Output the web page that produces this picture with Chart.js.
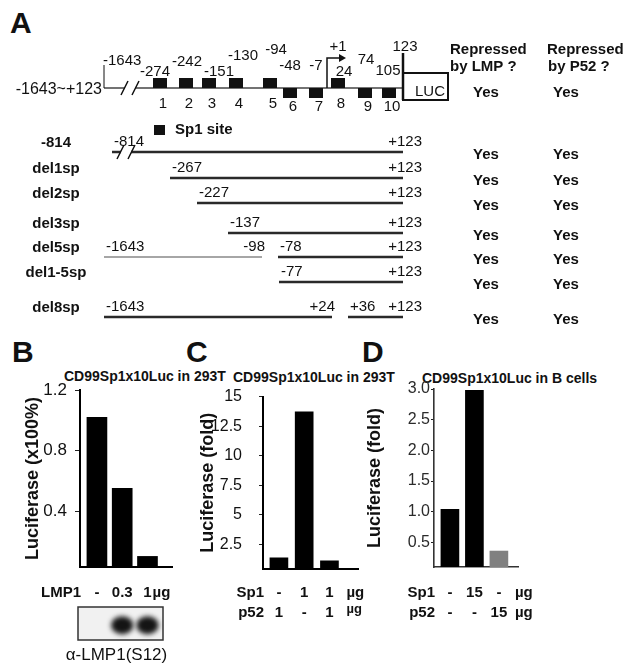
<!DOCTYPE html>
<html>
<head>
<meta charset="utf-8">
<title>CD99 Sp1 reporter constructs</title>
<script src="https://cdn.jsdelivr.net/npm/chart.js@4.4.1/dist/chart.umd.min.js"></script>
<style>
  body { margin: 0; background: #fff; }
  #page { position: relative; width: 644px; height: 671px; overflow: hidden;
          font-family: "Liberation Sans", Arial, sans-serif; color: #111; }
  #page canvas { position: absolute; }
  .letter { position: absolute; font-weight: bold; font-size: 30px; line-height: 30px; }
  .ctitle { position: absolute; font-weight: bold; font-size: 14px; line-height: 16px; white-space: nowrap; }
</style>
</head>
<body>
<div id="page">
  <div class="letter" style="left:10px;top:8px">A</div>
  <div class="letter" style="left:12px;top:337px">B</div>
  <div class="letter" style="left:186px;top:337px">C</div>
  <div class="letter" style="left:362px;top:337px">D</div>
  <div class="ctitle" style="left:64px;top:368px">CD99Sp1x10Luc in 293T</div>
  <div class="ctitle" style="left:233px;top:369px">CD99Sp1x10Luc in 293T</div>
  <div class="ctitle" style="left:422px;top:370px">CD99Sp1x10Luc in B cells</div>
  <canvas id="panelA" width="644" height="340" style="left:0;top:0"></canvas>
  <canvas id="panelB" width="190" height="301" style="left:0;top:370px"></canvas>
  <canvas id="panelC" width="190" height="260" style="left:185px;top:370px"></canvas>
  <canvas id="panelD" width="200" height="260" style="left:355px;top:370px"></canvas>
</div>
<script>
const FONT = '"Liberation Sans", Arial, sans-serif';
const INK = '#111';
Chart.defaults.font.family = FONT;

// ---- panel A: promoter map and deletion constructs ----
const siteNumbers = ['1', '2', '3', '4', '5', '6', '7', '8', '9', '10'];
const sitePositions = [-274, -242, -151, -130, -94, -48, -7, 24, 74, 105];
const siteSides = [1, 1, 1, 1, 1, -1, -1, 1, -1, -1];   // 1 = above the line
const constructNames = ['-814', 'del1sp', 'del2sp', 'del3sp', 'del5sp', 'del1-5sp', 'del8sp'];
const constructSegments = [
  [[-814, 123]],
  [[-267, 123]],
  [[-227, 123]],
  [[-137, 123]],
  [[-1643, -98], [-78, 123]],
  [[-77, 123]],
  [[-1643, 24], [36, 123]]
];
// first entry is the full-length -1643~+123 reporter
const repressedByLMP = ['Yes', 'Yes', 'Yes', 'Yes', 'Yes', 'Yes', 'Yes', 'Yes'];
const repressedByP52 = ['Yes', 'Yes', 'Yes', 'Yes', 'Yes', 'Yes', 'Yes', 'Yes'];

// ---- panel B ----
const lmpDoses = ['-', '0.3', '1'];
const lmpLuciferase = [1.02, 0.55, 0.1];
const lmpBlotSignal = [0, 1, 1];
const yTicksB = [0.4, 0.8, 1.2];
const yTickLabelsB = ['0.4', '0.8', '1.2'];

// ---- panel C ----
const sp1DosesC = ['-', '1', '1'];
const p52DosesC = ['1', '-', '1'];
const luciferaseC = [1.35, 13.7, 1.1];
const yTicksC = [2.5, 5, 7.5, 10, 12.5, 15];
const yTickLabelsC = ['2.5', '5', '7.5', '10', '12.5', '15'];

// ---- panel D ----
const sp1DosesD = ['-', '15', '-'];
const p52DosesD = ['-', '-', '15'];
const luciferaseD = [1.04, 2.98, 0.36];
const yTicksD = [0.5, 1, 1.5, 2, 2.5, 3];
const yTickLabelsD = ['0.5', '1.0', '1.5', '2.0', '2.5', '3.0'];

// ---- map layout (the map is not to scale, so x goes through a piecewise scale) ----
const mapKnots = [[-1643, 104], [-814, 112], [-274, 154], [-267, 170], [-242, 180],
  [-227, 197], [-151, 203], [-137, 228], [-130, 230], [-98, 262], [-94, 264],
  [-78, 278], [-77, 279], [-48, 284], [-7, 310], [1, 327], [24, 332], [36, 348],
  [74, 359], [105, 383], [123, 403]];
const mapY = 88;
const rowY = [152, 178, 203, 233, 257, 282, 317];
const siteLabelY = [72, 62, 72, 56, 50, 66, 66, 72, 60, 71];
const siteLabelDx = [-5, 1, 10, 7, 6, 0, 0, 6, 1, -1];

function warp(v) {
  const k = mapKnots;
  if (v <= k[0][0]) return k[0][1];
  for (let i = 1; i < k.length; i++) {
    if (v <= k[i][0]) {
      const [a, pa] = k[i - 1], [b, pb] = k[i];
      return pa + (v - a) / (b - a) * (pb - pa);
    }
  }
  return k[k.length - 1][1];
}

class SchematicScale extends Chart.LinearScale {
  getPixelForValue(value) { return super.getPixelForValue(warp(value)); }
}
SchematicScale.id = 'schematic';
SchematicScale.defaults = Chart.LinearScale.defaults;
Chart.register(SchematicScale);

const fmtPos = v => (v > 0 ? '+' + v : String(v));

function breakMark(ctx, cx, cy) {
  ctx.save();
  ctx.fillStyle = '#fff';
  ctx.fillRect(cx - 5, cy - 3, 10, 6);
  ctx.strokeStyle = INK;
  ctx.lineWidth = 1.5;
  ctx.beginPath();
  ctx.moveTo(cx - 9, cy + 7); ctx.lineTo(cx - 2, cy - 7);
  ctx.moveTo(cx + 2, cy + 7); ctx.lineTo(cx + 9, cy - 7);
  ctx.stroke();
  ctx.restore();
}

const mapPlugin = {
  id: 'promoterMap',
  afterDatasetsDraw(chart) {
    const {ctx, scales: {x}} = chart;
    const px = v => x.getPixelForValue(v);
    const put = (str, tx, ty, size, bold, align) => {
      ctx.font = (bold ? 'bold ' : '') + size + 'px ' + FONT;
      ctx.textAlign = align || 'center';
      ctx.fillText(str, tx, ty);
    };
    ctx.save();
    ctx.fillStyle = INK;
    ctx.strokeStyle = INK;
    ctx.textBaseline = 'middle';

    // full-length reporter
    put('-1643~+123', px(-1643) - 2, mapY + 2, 16, false, 'right');
    ctx.lineWidth = 1;
    ctx.beginPath();
    ctx.moveTo(px(-1643), mapY); ctx.lineTo(px(-1643), 65);
    ctx.stroke();
    put('-1643', px(-1643) - 1, 61, 15, false, 'left');
    breakMark(ctx, 130, mapY);

    sitePositions.forEach((pos, i) => {
      const cx = px(pos) + 6;
      const up = siteSides[i] > 0;
      ctx.fillRect(cx - 7, up ? mapY - 10 : mapY, 14, 10);
      put(siteNumbers[i], cx + 3, up ? mapY + 16 : mapY + 19, 15);
      put(String(pos), cx + siteLabelDx[i], siteLabelY[i], 15);
    });

    // transcription start
    const x0 = px(1);
    ctx.lineWidth = 1.5;
    ctx.beginPath();
    ctx.moveTo(x0, mapY); ctx.lineTo(x0, 58); ctx.lineTo(x0 + 14, 58);
    ctx.stroke();
    ctx.beginPath();
    ctx.moveTo(x0 + 19, 58); ctx.lineTo(x0 + 12, 54); ctx.lineTo(x0 + 12, 62);
    ctx.closePath(); ctx.fill();
    put('+1', x0 + 11, 47, 15);

    // +123 and luciferase
    const xe = px(123);
    ctx.lineWidth = 2.5;
    ctx.beginPath();
    ctx.moveTo(xe, 53); ctx.lineTo(xe, 100);
    ctx.stroke();
    ctx.lineWidth = 2;
    ctx.strokeRect(xe, 73, 45, 27);
    put('123', xe + 2, 47, 15);
    put('LUC', xe + 27, 92, 15);

    // legend
    ctx.fillRect(154, 125, 11, 10);
    put('Sp1 site', 175, 130, 15, true, 'left');

    put('Repressed', 450, 50, 15, true, 'left');
    put('by LMP ?', 450, 67, 15, true, 'left');
    put('Repressed', 547, 50, 15, true, 'left');
    put('by P52 ?', 548, 67, 15, true, 'left');
    put(repressedByLMP[0], 486, mapY + 5, 15, true);
    put(repressedByP52[0], 566, mapY + 5, 15, true);

    constructNames.forEach((name, i) => {
      const y = rowY[i];
      put(name, 56, y - 9, 15, true);
      const segs = constructSegments[i];
      segs.forEach(([s, e], j) => {
        put(fmtPos(s), px(s) + 2, y - 10, 15, false, 'left');
        const last = j === segs.length - 1;
        put(fmtPos(e), px(e) + (last ? 19 : 3), y - 10, 15, false, 'right');
      });
      put(repressedByLMP[i + 1], 486, y + 3, 15, true);
      put(repressedByP52[i + 1], 566, y + 3, 15, true);
    });
    breakMark(ctx, px(constructSegments[0][0][0]) + 14, rowY[0]);
    ctx.restore();
  }
};

const mapDatasets = [{
  data: [{x: -1643, y: mapY}, {x: 123, y: mapY}],
  borderColor: '#444', borderWidth: 1.5
}];
constructSegments.forEach((segs, i) => {
  segs.forEach(([s, e], j) => {
    // upstream part of del5sp is drawn lighter in the figure
    const light = constructNames[i] === 'del5sp' && j === 0;
    mapDatasets.push({
      data: [{x: s, y: rowY[i]}, {x: e, y: rowY[i]}],
      borderColor: light ? '#888' : '#2a2a2a',
      borderWidth: light ? 1.5 : 2.4
    });
  });
});

new Chart(document.getElementById('panelA'), {
  type: 'scatter',
  data: { datasets: mapDatasets },
  options: {
    responsive: false, animation: false, devicePixelRatio: 1,
    showLine: true,
    elements: { point: { radius: 0 }, line: { tension: 0 } },
    plugins: { legend: { display: false }, tooltip: { enabled: false } },
    scales: {
      x: { type: 'schematic', min: 0, max: 644, display: false },
      y: { type: 'linear', min: 0, max: 340, reverse: true, display: false }
    }
  },
  plugins: [mapPlugin]
});

// ---- bar panels ----
function barPanel(id, p) {
  const doseRows = {
    id: 'doseRows',
    afterDraw(chart) {
      const {ctx, chartArea, scales: {x}} = chart;
      ctx.save();
      ctx.fillStyle = INK;
      ctx.textBaseline = 'middle';
      p.rows.forEach(r => {
        const y = chartArea.bottom + r.dy;
        ctx.font = 'bold 15px ' + FONT;
        ctx.textAlign = 'right';
        ctx.fillText(r.head, chartArea.left + 1, y);
        ctx.textAlign = 'center';
        r.doses.forEach((d, i) => ctx.fillText(d, x.getPixelForValue(i), y));
        if (r.unit) {
          ctx.textAlign = 'left';
          ctx.font = 'bold ' + (r.unitSize || 15) + 'px ' + FONT;
          ctx.fillText(r.unit, x.getPixelForValue(r.doses.length - 1) + p.unitDx, y - (r.raise || 0));
        }
      });
      ctx.restore();
      if (p.after) p.after(chart);
    }
  };
  return new Chart(document.getElementById(id), {
    type: 'bar',
    data: {
      datasets: [{
        data: p.values.map((v, i) => ({x: i, y: v})),
        backgroundColor: p.colors,
        borderWidth: 0,
        barThickness: p.barThickness
      }]
    },
    options: {
      responsive: false, animation: false, devicePixelRatio: 1,
      layout: { padding: p.padding },
      plugins: { legend: { display: false }, tooltip: { enabled: false } },
      scales: {
        x: {
          type: 'linear', min: p.xMin, max: p.xMax, offset: false,
          ticks: { display: false },
          grid: { drawOnChartArea: false, drawTicks: false },
          border: { color: p.axisColor || '#000', width: p.axisWidth || 2 },
          afterFit: s => { s.height = p.xHeight; }
        },
        y: {
          min: p.yMin, max: p.yMax,
          afterBuildTicks: s => { s.ticks = p.yTicks.map(v => ({value: v})); },
          afterFit: s => { s.width = p.yWidth; },
          ticks: {
            callback: (v, i) => p.yLabels[i],
            font: { size: p.tickSize || 16 }, color: p.tickColor || INK, padding: p.tickPad
          },
          grid: { drawOnChartArea: false, tickLength: p.tickLen, color: '#222', lineWidth: 1 },
          border: { color: p.axisColor || '#000', width: p.axisWidth || 2 },
          title: {
            display: true, text: p.yTitle, color: INK,
            font: { size: 18, weight: 'bold' },
            padding: { top: p.titlePad, bottom: 0 }
          }
        }
      }
    },
    plugins: [doseRows]
  });
}

barPanel('panelB', {
  values: lmpLuciferase, colors: '#000', barThickness: 20,
  yMin: 0.03, yMax: 1.2, yTicks: yTicksB, yLabels: yTickLabelsB,
  yTitle: 'Luciferase (x100%)', titlePad: 22, tickLen: 5, tickPad: 8, tickSize: 17,
  xMin: -0.67, xMax: 2.97, yWidth: 80, xHeight: 104,
  padding: { top: 20, right: 18, left: 0, bottom: 0 },
  unitDx: 5,
  rows: [{ head: 'LMP1', doses: lmpDoses, unit: 'µg', dy: 26 }],
  after(chart) {
    const {ctx, chartArea: a, scales: {x}} = chart;
    const left = a.left - 2, right = a.left + 83;
    const top = a.bottom + 40, h = 33;
    ctx.save();
    ctx.fillStyle = '#f1f1f1';
    ctx.fillRect(left, top, right - left, h);
    ctx.filter = 'blur(2.5px)';
    lmpBlotSignal.forEach((s, i) => {
      if (!s) return;
      ctx.fillStyle = 'rgba(20,20,20,' + s + ')';
      ctx.beginPath();
      ctx.ellipse(x.getPixelForValue(i), top + h * 0.55, 11, 9, 0, 0, Math.PI * 2);
      ctx.fill();
    });
    ctx.filter = 'none';
    ctx.strokeStyle = '#333';
    ctx.lineWidth = 1.5;
    ctx.strokeRect(left, top, right - left, h);
    ctx.fillStyle = INK;
    ctx.font = '17px ' + FONT;
    ctx.textAlign = 'center';
    ctx.textBaseline = 'middle';
    ctx.fillText('α-LMP1(S12)', (left + right) / 2 - 4, a.bottom + 88);
    ctx.restore();
  }
});

barPanel('panelC', {
  values: luciferaseC, colors: '#000', barThickness: 18,
  yMin: 0.4, yMax: 15, yTicks: yTicksC, yLabels: yTickLabelsC,
  yTitle: 'Luciferase (fold)', titlePad: 12, tickLen: 4, tickPad: 17,
  xMin: -0.63, xMax: 3.13, yWidth: 78, xHeight: 61,
  padding: { top: 23, right: 17, left: 0, bottom: 0 },
  unitDx: 17,
  rows: [
    { head: 'Sp1', doses: sp1DosesC, unit: 'µg', dy: 24 },
    { head: 'p52', doses: p52DosesC, unit: 'µg', dy: 44, unitSize: 13, raise: 4 }
  ]
});

barPanel('panelD', {
  values: luciferaseD, colors: ['#000', '#000', '#808080'], barThickness: 18,
  yMin: 0.1, yMax: 3, yTicks: yTicksD, yLabels: yTickLabelsD,
  yTitle: 'Luciferase (fold)', titlePad: 9, tickLen: 3, tickPad: 1,
  tickColor: '#2b2b2b', axisColor: '#333', axisWidth: 1.6,
  xMin: -0.65, xMax: 2.78, yWidth: 79, xHeight: 63,
  padding: { top: 19, right: 37, left: 0, bottom: 0 },
  unitDx: 16,
  rows: [
    { head: 'Sp1', doses: sp1DosesD, unit: 'µg', dy: 26 },
    { head: 'p52', doses: p52DosesD, unit: 'µg', dy: 46 }
  ]
});
</script>
</body>
</html>
